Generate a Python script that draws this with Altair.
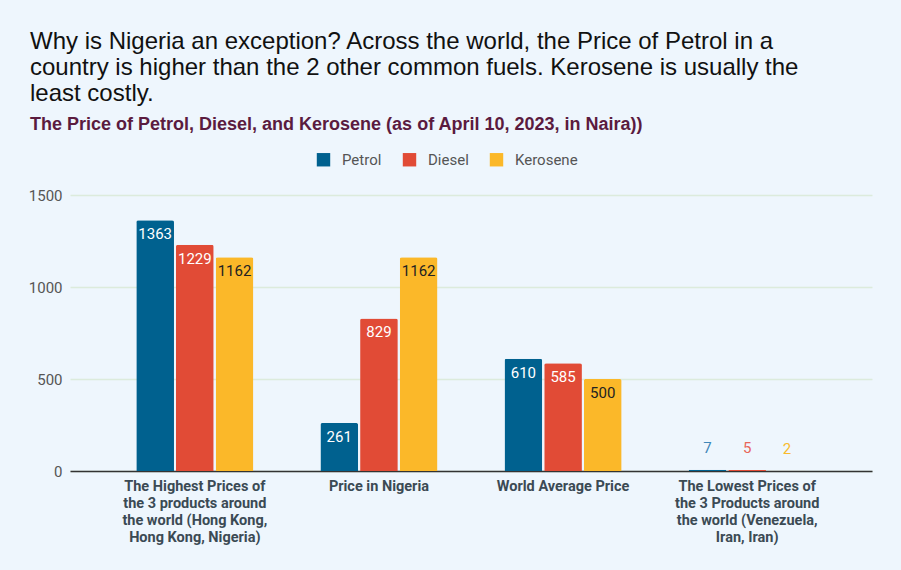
import altair as alt
import pandas as pd

categories = [
    "The Highest Prices of\nthe 3 products around\nthe world (Hong Kong,\nHong Kong, Nigeria)",
    "Price in Nigeria",
    "World Average Price",
    "The Lowest Prices of\nthe 3 Products around\nthe world (Venezuela,\nIran, Iran)",
]
fuels = ["Petrol", "Diesel", "Kerosene"]
petrol = [1363, 261, 610, 7]
diesel = [1229, 829, 585, 5]
kerosene = [1162, 1162, 500, 2]

bar_colors = ["#00618f", "#e14b36", "#fbb829"]
inside_text_colors = ["#ffffff", "#ffffff", "#222222"]
outside_text_colors = ["#3f87b8", "#e8665a", "#f9bb2c"]

rows = []
for i, c in enumerate(categories):
    for f, vals in zip(fuels, [petrol, diesel, kerosene]):
        rows.append({"category": c, "fuel": f, "price": vals[i]})
df = pd.DataFrame(rows)

title_lines = [
    "Why is Nigeria an exception? Across the world, the Price of Petrol in a",
    "country is higher than the 2 other common fuels. Kerosene is usually the",
    "least costly.",
]
subtitle = "The Price of Petrol, Diesel, and Kerosene (as of April 10, 2023, in Naira))"

x_enc = alt.X(
    "category:N",
    sort=categories,
    scale=alt.Scale(paddingInner=0.364, paddingOuter=0.36),
    axis=alt.Axis(
        title=None,
        labelAngle=0,
        labelExpr="split(datum.label, '\\n')",
        labelFont="Roboto",
        labelFontWeight="bold",
        labelFontSize=14.5,
        labelColor="#3b4a54",
        labelLineHeight=17,
        labelPadding=8,
        ticks=False,
        domain=True,
        domainColor="#333333",
        domainWidth=1.5,
        grid=False,
        labelLimit=300,
    ),
)
xoff = alt.XOffset("fuel:N", sort=fuels, scale=alt.Scale(paddingInner=0.05))
y_enc = alt.Y(
    "price:Q",
    scale=alt.Scale(domain=[0, 1500], nice=False),
    axis=alt.Axis(
        title=None,
        values=[0, 500, 1000, 1500],
        format="d",
        labelFont="Roboto",
        labelFontSize=15,
        labelColor="#555555",
        labelPadding=8,
        ticks=False,
        domain=False,
        gridColor="#dcebdc",
        gridWidth=1.5,
    ),
)

base = alt.Chart(df)

bars = base.mark_bar(cornerRadiusTopLeft=2, cornerRadiusTopRight=2).encode(
    x=x_enc,
    xOffset=xoff,
    y=y_enc,
    color=alt.Color(
        "fuel:N",
        sort=fuels,
        scale=alt.Scale(domain=fuels, range=bar_colors),
        legend=alt.Legend(
            title=None,
            orient="none",
            direction="horizontal",
            legendX=246,
            legendY=-43,
            symbolType="square",
            symbolSize=180,
            symbolStrokeWidth=0,
            labelFont="Roboto",
            labelFontSize=15,
            labelColor="#555555",
            labelOffset=11,
            columnPadding=20,
        ),
    ),
)

inside = base.transform_filter("datum.price >= 100").mark_text(
    baseline="middle", dy=14, font="Roboto", fontSize=15
).encode(
    x=alt.X("category:N", sort=categories),
    xOffset=alt.XOffset("fuel:N", sort=fuels),
    y="price:Q",
    text="price:Q",
    color=alt.Color("fuel:N", scale=alt.Scale(domain=fuels, range=inside_text_colors), legend=None),
)

outside = base.transform_filter("datum.price < 100").mark_text(
    baseline="middle", dy=-22, font="Roboto", fontSize=15
).encode(
    x=alt.X("category:N", sort=categories),
    xOffset=alt.XOffset("fuel:N", sort=fuels),
    y="price:Q",
    text="price:Q",
    color=alt.Color("fuel:N", scale=alt.Scale(domain=fuels, range=outside_text_colors), legend=None),
)

chart = (
    alt.layer(bars, inside, outside)
    .resolve_scale(color="independent")
    .properties(
        width=802,
        height=276,
        background="#eef6fd",
        autosize=alt.AutoSizeParams(type="none"),
        padding={"left": 70, "top": 195, "right": 29, "bottom": 99},
        title=alt.Title(
            text=title_lines,
            subtitle=subtitle,
            anchor="start",
            frame="group",
            dx=-40,
            offset=18,
            font="Liberation Sans",
            fontSize=24,
            fontWeight="normal",
            color="#111111",
            lineHeight=26,
            subtitleFont="Liberation Sans",
            subtitleFontSize=18,
            subtitleFontWeight="bold",
            subtitleColor="#5b1b3f",
            subtitlePadding=10,
        ),
    )
    .configure_view(stroke=None)
)

chart.save("out.html", embed_options={"renderer": "svg", "actions": False})
